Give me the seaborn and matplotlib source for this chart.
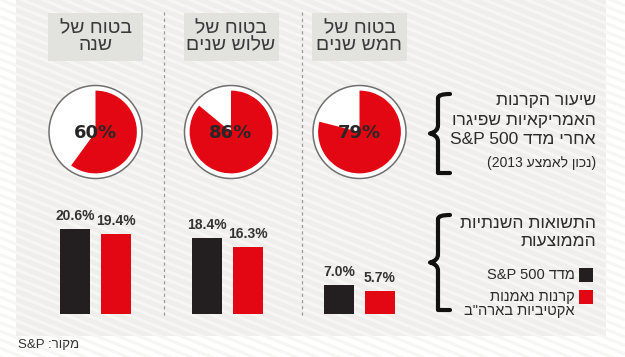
import re
import numpy as np
import pandas as pd
import matplotlib
matplotlib.use("Agg")
import matplotlib.pyplot as plt
from matplotlib.patches import Rectangle, Circle, PathPatch
from matplotlib.path import Path
from matplotlib.collections import LineCollection
import seaborn as sns

# ---------------- data ----------------
periods = ["שנה", "שלוש שנים", "חמש שנים"]          # left -> right
period_prefix = "בטוח של"
lag_share = [60, 86, 79]                               # % of funds lagging S&P 500
sp500_returns = [20.6, 18.4, 7.0]
fund_returns = [19.4, 16.3, 5.7]
series_names = ["מדד S&P 500", "קרנות נאמנות אקטיביות בארה\"ב"]
lag_title = ["שיעור הקרנות", "האמריקאיות שפיגרו", "אחרי מדד S&P 500"]
lag_note = "(נכון לאמצע 2013)"
ret_title = ["התשואות השנתיות", "הממוצעות"]
legend_lines = [["מדד S&P 500"], ["קרנות נאמנות", "אקטיביות בארה\"ב"]]
source = "מקור: S&P"

# ---------------- helpers ----------------
LTR = r"[A-Za-z0-9&.%]+(?: [A-Za-z0-9&.%]+)*"
MIRROR = {"(": ")", ")": "("}


def vis(s):
    """logical Hebrew -> visual order for LTR text rendering"""
    r = "".join(MIRROR.get(c, c) for c in s[::-1])
    return re.sub(LTR, lambda m: m.group(0)[::-1], r)


sns.set_theme(style="white")
HEB = ["Liberation Sans Narrow", "Liberation Sans", "DejaVu Sans"]
plt.rcParams["font.family"] = HEB

RED = "#e30613"
BLACK = "#231f20"
TXT = "#333333"

W, H = 625, 357
fig = plt.figure(figsize=(W / 100, H / 100), dpi=100)
fig.patch.set_facecolor("white")

bg = fig.add_axes([0, 0, 1, 1])
bg.set_xlim(0, W)
bg.set_ylim(H, 0)
bg.axis("off")

# panel with diagonal stripes
px0, px1, py0, py1 = 16, 606, 0, 336
panel = Rectangle((px0, py0), px1 - px0, py1 - py0, facecolor="#efeeec",
                  edgecolor="none", zorder=0)
bg.add_patch(panel)
ang = np.tan(np.radians(22))
segs = []
for c in np.arange(-400, 400, 8.5):
    segs.append([(0, c), (W, c + W * ang)])
lc = LineCollection(segs, colors="#f6f6f4", linewidths=2.2, zorder=0.5)
lc.set_clip_path(panel)
bg.add_collection(lc)

# dashed dividers
for x in (164, 302):
    bg.plot([x, x], [12, 318], ls=(0, (2.5, 2.5)), color="#9a9a9a", lw=0.9, zorder=1)

# title boxes
centers = [95.5, 231, 359.5]
for cx, p in zip(centers, periods):
    bg.add_patch(Rectangle((cx - 47.5, 13), 95, 48, facecolor="#e2e2df",
                           edgecolor="none", zorder=1))
    bg.text(cx, 37, vis(period_prefix) + "\n" + vis(p), ha="center", va="center",
            fontsize=14, color="#3a3a3a", linespacing=1.0, zorder=2)

# ---------------- pies ----------------
R_PX = 46.5
for cx, v in zip(centers, lag_share):
    cy = 132
    size = 100
    pa = fig.add_axes([(cx - size / 2) / W, (H - cy - size / 2) / H, size / W, size / H])
    L = size / (2 * R_PX)
    pa.set_xlim(-L, L)
    pa.set_ylim(-L, L)
    pa.set_aspect("equal")
    pa.axis("off")
    pa.add_patch(Circle((0, 0), 1.0, facecolor="white", edgecolor="#6f6f6f", lw=1.1, zorder=0))
    pa.pie([v, 100 - v], colors=[RED, (0, 0, 0, 0)], startangle=90, counterclock=False,
           radius=0.89, wedgeprops=dict(linewidth=0), frame=False)
    pa.set_xlim(-L, L)
    pa.set_ylim(-L, L)
    pa.text(0, -0.02, f"{v}%", ha="center", va="center", fontsize=13, fontweight="bold",
            color="#262626", family="DejaVu Sans", zorder=5)

# ---------------- bars ----------------
unit = 132.0
base_y = 314.3
ppu = 4.13
top_y = 214
bx0 = centers[0] - unit / 2
ba = fig.add_axes([bx0 / W, (H - base_y) / H, 3 * unit / W, (base_y - top_y) / H])
ba.patch.set_alpha(0)
df = pd.DataFrame({
    "period": periods * 2,
    "series": [series_names[0]] * 3 + [series_names[1]] * 3,
    "value": sp500_returns + fund_returns,
})
sns.barplot(data=df, x="period", y="value", hue="series", order=periods,
            hue_order=series_names, palette=[BLACK, RED], saturation=1,
            width=0.62, gap=0.27, linewidth=0, legend=False, ax=ba)
ba.set_xlim(-0.5, 2.5)
ba.set_ylim(0, (base_y - top_y) / ppu)
ba.axis("off")
for cont, vals in zip(ba.containers, [sp500_returns, fund_returns]):
    ba.bar_label(cont, labels=[f"{v:.1f}%" for v in vals], padding=4.5, fontsize=10,
                 fontweight="bold", color=TXT, family="Liberation Sans")


# ---------------- braces ----------------
def brace(x_tip, x_back, y0, y1, lw=3.0):
    ym = (y0 + y1) / 2
    xm = (x_tip + x_back) / 2
    verts = [
        (x_back + 4, y0), (xm, y0), (xm, y0 + 4), (xm, y0 + 10),
        (xm, ym - 8), (xm, ym - 2), (x_tip, ym),
        (xm, ym + 2), (xm, ym + 8),
        (xm, y1 - 10), (xm, y1 - 4), (xm, y1), (x_back + 4, y1),
    ]
    codes = [Path.MOVETO, Path.CURVE3, Path.CURVE3, Path.LINETO,
             Path.LINETO, Path.CURVE3, Path.CURVE3,
             Path.CURVE3, Path.CURVE3,
             Path.LINETO, Path.CURVE3, Path.CURVE3, Path.LINETO]
    bg.add_patch(PathPatch(Path(verts, codes), facecolor="none", edgecolor="#111111",
                           lw=lw, capstyle="round", joinstyle="round", zorder=3))


brace(430, 446, 94, 173)
brace(430, 446, 215, 310)

# ---------------- right side texts ----------------
TX = 596
for i, line in enumerate(lag_title):
    bg.text(TX, 101 + i * 19.5, vis(line), ha="right", va="center", fontsize=12.5,
            color="#2b2b2b", zorder=3)
bg.text(TX, 163, vis(lag_note), ha="right", va="center", fontsize=10,
        color="#2b2b2b", zorder=3)

for i, line in enumerate(ret_title):
    bg.text(TX, 223 + i * 19, vis(line), ha="right", va="center", fontsize=12.5,
            color="#2b2b2b", zorder=3)

sq = 14
for j, (col, lines) in enumerate(zip([BLACK, RED], legend_lines)):
    y = 268 + j * 22
    bg.add_patch(Rectangle((579, y), sq, sq, facecolor=col, edgecolor="none", zorder=3))
    for k, line in enumerate(lines):
        bg.text(575, y + 7 + k * 13.5, vis(line), ha="right", va="center",
                fontsize=10.5, color="#2b2b2b", zorder=3)

# source
bg.text(18, 345, vis(source), ha="left", va="center", fontsize=9.5, color=TXT)

fig.savefig("out.png", dpi=100, facecolor="white")
